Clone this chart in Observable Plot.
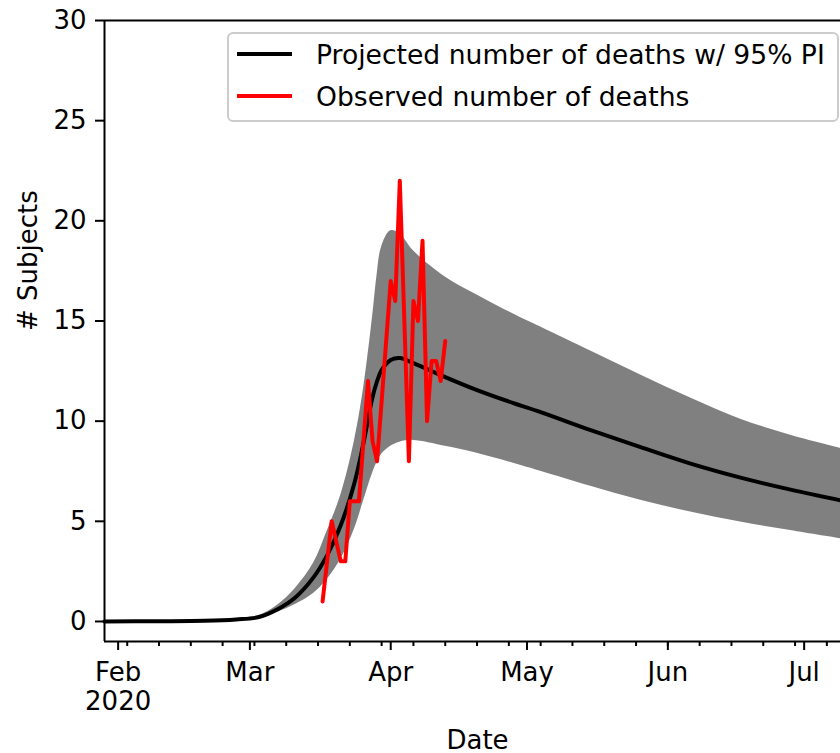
<!DOCTYPE html>
<html><head><meta charset="utf-8">
<script src="https://cdn.jsdelivr.net/npm/d3@7"></script>
<script src="https://cdn.jsdelivr.net/npm/@observablehq/plot@0.6"></script>
<style>html,body{margin:0;padding:0;background:#fff;} svg{display:block}</style>
</head><body><div id="chart"></div>
<script>
// Projection (mean with 95% prediction interval)
const projDates = ["2020-01-29","2020-02-10","2020-02-20","2020-02-27","2020-03-03","2020-03-07","2020-03-11","2020-03-15","2020-03-18","2020-03-21","2020-03-24","2020-03-26","2020-03-28","2020-03-29","2020-03-30","2020-04-01","2020-04-03","2020-04-06","2020-04-13","2020-04-20","2020-04-28","2020-05-04","2020-05-15","2020-05-26","2020-06-06","2020-06-17","2020-06-28","2020-07-09"];
const projMean  = [0, 0.01, 0.03, 0.1, 0.22, 0.6, 1.2, 2.2, 3.3, 4.8, 6.9, 8.9, 11.2, 12.0, 12.55, 13.05, 13.15, 12.9, 12.2, 11.55, 10.9, 10.45, 9.55, 8.7, 7.88, 7.18, 6.58, 6.05];
const projLower = [0, 0.01, 0.02, 0.08, 0.18, 0.45, 0.85, 1.4, 2.1, 3.1, 4.6, 6.0, 7.4, 7.95, 8.35, 8.75, 8.95, 9.04, 8.75, 8.4, 7.9, 7.5, 6.75, 6.05, 5.46, 4.96, 4.54, 4.13];
const projUpper = [0, 0.01, 0.04, 0.13, 0.3, 0.8, 1.65, 2.9, 4.5, 6.3, 9.0, 11.6, 15.2, 17.3, 18.7, 19.5, 19.35, 18.5, 17.2, 16.3, 15.35, 14.7, 13.5, 12.3, 11.15, 10.1, 9.3, 8.65];

// Observed daily deaths, from 2020-03-17
const obsStart = "2020-03-17";
const obsValues = [1,3,5,4,3,3,6,6,6,9,12,9,8,11,14,17,16,22,15,8,16,15,19,10,13,13,12,14];

// Axes
const xDomain = ["2020-01-29","2020-07-09"];
const monthTicks = ["2020-02-01","2020-03-01","2020-04-01","2020-05-01","2020-06-01","2020-07-01"];
const monthLabels = ["Feb\n2020","Mar","Apr","May","Jun","Jul"];
const yTicks = [0,5,10,15,20,25,30];
const yDomain = [-1, 30];
const legendLabels = ["Projected number of deaths w/ 95% PI","Observed number of deaths"];
const legendColors = ["black","red"];

const parse = d3.utcParse("%Y-%m-%d");
const proj = projDates.map((d,i)=>({date: parse(d), mean: projMean[i], lo: projLower[i], hi: projUpper[i]}));
const s0 = parse(obsStart);
const obs = obsValues.map((v,i)=>({date: d3.utcDay.offset(s0, i), value: v}));
const months = monthTicks.map(parse);
const mondays = d3.utcMonday.range(parse(xDomain[0]), parse(xDomain[1]));
const FONT = "DejaVu Sans";

const svg = Plot.plot({
  width: 840, height: 753,
  marginTop: 20, marginBottom: 112, marginLeft: 104, marginRight: 0,
  style: {fontFamily: FONT, fontSize: "26px", background: "white", color: "black"},
  x: {type: "utc", domain: xDomain.map(parse)},
  y: {domain: yDomain},
  marks: [
    Plot.areaY(proj, {x: "date", y1: "lo", y2: "hi", fill: "#808080", curve: "catmull-rom"}),
    Plot.lineY(proj, {x: "date", y: "mean", stroke: "black", strokeWidth: 4, curve: "catmull-rom"}),
    Plot.lineY(obs, {x: "date", y: "value", stroke: "red", strokeWidth: 4}),
    Plot.ruleY([yDomain[1]], {stroke: "black", strokeWidth: 2}),
    Plot.ruleY([yDomain[0]], {stroke: "black", strokeWidth: 2}),
    Plot.ruleX([parse(xDomain[0])], {stroke: "black", strokeWidth: 2}),
    Plot.axisY(yTicks, {tickSize: 9, tickPadding: 9, strokeWidth: 2, fontSize: 26, label: null}),
    Plot.axisX(mondays, {tickSize: 5, strokeWidth: 2, tickFormat: () => "", label: null}),
    Plot.axisX(months, {tickSize: 9, strokeWidth: 2, tickFormat: () => "", label: null}),
    Plot.text(months, {x: d => d, text: (d,i) => monthLabels[i], frameAnchor: "bottom", lineAnchor: "top", dy: 19, lineHeight: 1.12, fontSize: 26, fill: "black"}),
    Plot.text(["Date"], {frameAnchor: "bottom", dx: 5, dy: 107, fontSize: 26, fill: "black"}),
    Plot.text(["# Subjects"], {frameAnchor: "left", dx: -76, rotate: -90, fontSize: 26, fill: "black"})
  ]
});

// Legend
const g = d3.select(svg).append("g");
g.append("rect").attr("x", 228).attr("y", 33).attr("width", 610).attr("height", 88)
  .attr("rx", 5).attr("fill", "white").attr("fill-opacity", 0.8)
  .attr("stroke", "#cccccc").attr("stroke-width", 2);
legendLabels.forEach((lab, i) => {
  const cy = 54 + i * 42;
  g.append("line").attr("x1", 237).attr("x2", 292).attr("y1", cy).attr("y2", cy)
    .attr("stroke", legendColors[i]).attr("stroke-width", 4);
  g.append("text").attr("x", 316).attr("y", cy + 9.7).attr("text-anchor", "start")
    .attr("font-family", FONT).attr("font-size", 26.6).attr("fill", "black").text(lab);
});

document.getElementById("chart").appendChild(svg);
</script>
</body></html>
